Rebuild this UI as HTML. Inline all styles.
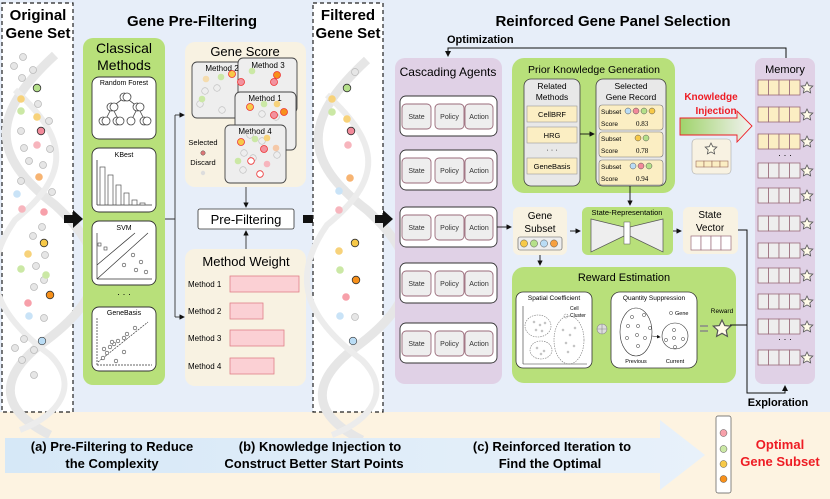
<!DOCTYPE html>
<html><head><meta charset="utf-8"><style>
html,body{margin:0;padding:0;background:#fff}
svg{display:block}
text{font-family:"Liberation Sans",sans-serif}
</style></head><body>
<svg width="830" height="499" viewBox="0 0 830 499" xmlns="http://www.w3.org/2000/svg">
<defs>
<marker id="ar" markerWidth="6" markerHeight="6" refX="5" refY="3" orient="auto"><path d="M0,0 L6,3 L0,6 z" fill="#111"/></marker>
<linearGradient id="kg" x1="0" x2="1"><stop offset="0" stop-color="#9fd36a"/><stop offset="1" stop-color="#f2f2f2"/></linearGradient>
<linearGradient id="bg" x1="0" x2="1"><stop offset="0" stop-color="#d6e8f7"/><stop offset="1" stop-color="#e8f1fa"/></linearGradient>
<g id="star"><path d="M0,-6 L1.8,-2.3 L5.8,-1.9 L2.8,0.9 L3.6,4.9 L0,2.9 L-3.6,4.9 L-2.8,0.9 L-5.8,-1.9 L-1.8,-2.3 z" fill="#fffbe8" stroke="#555" stroke-width="0.8"/></g>
<g id="dna"><path d="M55,10 C-10,70 -10,110 55,160 C110,210 110,250 40,300 C-10,340 10,370 50,390" fill="none" stroke="#e6e6e6" stroke-width="9"/>
<path d="M15,45 C70,95 70,130 15,175 C-20,225 -10,265 50,310 C80,340 60,370 20,385" fill="none" stroke="#ececec" stroke-width="6"/></g>
</defs>
<rect x="0" y="0" width="830" height="412" fill="#e7eef9"/>
<rect x="0" y="412" width="830" height="87" fill="#fdf3e1"/>
<!-- Original gene set -->
<rect x="2" y="3" width="71" height="409" fill="#fff" stroke="#222" stroke-width="1.2" stroke-dasharray="4,3"/>
<use href="#dna" x="0" y="45"/>
<text x="38" y="20" font-size="15" font-weight="bold" text-anchor="middle">Original</text>
<text x="38" y="38" font-size="15" font-weight="bold" text-anchor="middle">Gene Set</text>
<g stroke="#bbb" stroke-width="0.8" fill="#e6e6e6">
<circle cx="23" cy="57" r="3.5"/><circle cx="14" cy="66" r="3.5"/><circle cx="33" cy="70" r="3.5"/><circle cx="22" cy="78" r="3.5"/><circle cx="38" cy="104" r="3.5"/><circle cx="21" cy="131" r="3.5"/><circle cx="49" cy="121" r="3.5"/><circle cx="24" cy="148" r="3.5"/><circle cx="50" cy="149" r="3.5"/><circle cx="29" cy="161" r="3.5"/><circle cx="43" cy="165" r="3.5"/><circle cx="21" cy="181" r="3.5"/><circle cx="52" cy="192" r="3.5"/><circle cx="42" cy="227" r="3.5"/><circle cx="33" cy="236" r="3.5"/><circle cx="45" cy="255" r="3.5"/><circle cx="36" cy="266" r="3.5"/><circle cx="44" cy="280" r="3.5"/><circle cx="34" cy="287" r="3.5"/><circle cx="44" cy="318" r="3.5"/><circle cx="24" cy="339" r="3.5"/><circle cx="15" cy="348" r="3.5"/><circle cx="34" cy="350" r="3.5"/><circle cx="22" cy="360" r="3.5"/><circle cx="34" cy="375" r="3.5"/></g>
<circle cx="37" cy="88" r="3.8" fill="#b5e08a" stroke="#333" stroke-width="0.8"/>
<circle cx="21" cy="99" r="3.8" fill="#f7d27a"/><circle cx="21" cy="111" r="3.8" fill="#cbe8a5"/><circle cx="37" cy="117" r="3.8" fill="#f7d27a"/>
<circle cx="41" cy="131" r="3.8" fill="#f28a9a" stroke="#333" stroke-width="0.8"/><circle cx="37" cy="145" r="3.8" fill="#f7b5bd"/>
<circle cx="39" cy="177" r="3.8" fill="#f7b472"/><circle cx="17" cy="194" r="3.8" fill="#c9e3f7"/><circle cx="22" cy="209" r="3.8" fill="#f7b5bd"/><circle cx="44" cy="212" r="3.8" fill="#f7a0aa"/>
<circle cx="44" cy="243" r="3.8" fill="#f7c948" stroke="#333" stroke-width="0.8"/><circle cx="28" cy="254" r="3.8" fill="#f7d27a"/><circle cx="21" cy="269" r="3.8" fill="#cbe8a5"/><circle cx="46" cy="275" r="3.8" fill="#cbe8a5"/>
<circle cx="50" cy="295" r="3.8" fill="#f7901a" stroke="#333" stroke-width="0.8"/><circle cx="28" cy="303" r="3.8" fill="#f7a0aa"/><circle cx="29" cy="316" r="3.8" fill="#c9e3f7"/><circle cx="42" cy="341" r="3.8" fill="#b9dcf5" stroke="#333" stroke-width="0.6"/>
<!-- arrow 1 -->
<path d="M64,215 L73,215 L73,210 L83,219 L73,228 L73,223 L64,223 z" fill="#111"/>
<text x="192" y="26" font-size="15" font-weight="bold" text-anchor="middle">Gene Pre-Filtering</text>
<!-- Classical methods -->
<rect x="83" y="38" width="82" height="347" rx="10" fill="#b8e07a"/>
<text x="124" y="53" font-size="14" text-anchor="middle">Classical</text>
<text x="124" y="70" font-size="14" text-anchor="middle">Methods</text>
<g fill="#fff" stroke="#333" stroke-width="0.9">
<rect x="92" y="77" width="64" height="62" rx="7"/><rect x="92" y="148" width="64" height="64" rx="7"/><rect x="92" y="221" width="64" height="64" rx="7"/><rect x="92" y="307" width="64" height="64" rx="7"/></g>
<text x="124" y="85" font-size="7" text-anchor="middle">Random Forest</text>
<path d="M125,97 L112,107 L105,121 M112,107 L119,121 M125,97 L138,107 L131,121 M138,107 L145,121" stroke="#444" stroke-width="0.8" fill="none"/>
<g fill="#fff" stroke="#444" stroke-width="0.8"><circle cx="124" cy="97" r="4"/><circle cx="127" cy="97" r="4"/><circle cx="111" cy="107" r="4"/><circle cx="114" cy="107" r="4"/><circle cx="137" cy="107" r="4"/><circle cx="140" cy="107" r="4"/><circle cx="103" cy="121" r="4"/><circle cx="106" cy="121" r="4"/><circle cx="117" cy="121" r="4"/><circle cx="120" cy="121" r="4"/><circle cx="131" cy="121" r="4"/><circle cx="144" cy="121" r="4"/><circle cx="147" cy="121" r="4"/></g>
<text x="124" y="157" font-size="7" text-anchor="middle">KBest</text>
<path d="M97,205 L97,160 M97,205 L152,205" stroke="#333" stroke-width="0.8" fill="none"/>
<g fill="#fff" stroke="#555" stroke-width="0.7"><rect x="100" y="167" width="5" height="38"/><rect x="108" y="175" width="5" height="30"/><rect x="116" y="185" width="5" height="20"/><rect x="124" y="193" width="5" height="12"/><rect x="132" y="200" width="5" height="5"/><rect x="140" y="203" width="5" height="2"/></g>
<text x="124" y="230" font-size="7" text-anchor="middle">SVM</text>
<path d="M97,279 L97,233 M97,279 L152,279 M97,279 L148,233 M97,265 L135,233" stroke="#333" stroke-width="0.7" fill="none"/>
<g fill="#fff" stroke="#444" stroke-width="0.6"><rect x="98" y="243" width="3" height="3"/><rect x="104" y="247" width="3" height="3"/><circle cx="133" cy="255" r="1.8"/><circle cx="141" cy="262" r="1.8"/><circle cx="124" cy="265" r="1.8"/><circle cx="136" cy="270" r="1.8"/><circle cx="146" cy="272" r="1.8"/></g>
<text x="124" y="297" font-size="9" text-anchor="middle">· · ·</text>
<text x="124" y="315" font-size="7" text-anchor="middle">GeneBasis</text>
<path d="M97,365 L97,318 M97,365 L152,365 M98,362 L148,322" stroke="#333" stroke-width="0.7" fill="none" stroke-dasharray="2,1"/>
<g fill="#fff" stroke="#444" stroke-width="0.6"><circle cx="103" cy="358" r="1.8"/><circle cx="107" cy="353" r="1.8"/><circle cx="104" cy="349" r="1.8"/><circle cx="110" cy="347" r="1.8"/><circle cx="114" cy="344" r="1.8"/><circle cx="118" cy="341" r="1.8"/><circle cx="112" cy="342" r="1.8"/><circle cx="124" cy="338" r="1.8"/><circle cx="127" cy="334" r="1.8"/><circle cx="135" cy="328" r="1.8"/><circle cx="124" cy="352" r="1.8"/><circle cx="116" cy="361" r="1.8"/></g>
<!-- connectors -->
<path d="M165,219 L175,219 M175,115 L175,317" stroke="#333" stroke-width="0.9" fill="none"/>
<path d="M175,115 L184,115" stroke="#333" stroke-width="0.9" marker-end="url(#ar)"/>
<path d="M175,317 L184,317" stroke="#333" stroke-width="0.9" marker-end="url(#ar)"/>
<!-- Gene score -->
<rect x="185" y="42" width="121" height="145" rx="10" fill="#f8f2e2"/>
<text x="245" y="56" font-size="13" text-anchor="middle">Gene Score</text>
<g fill="#eee" stroke="#444" stroke-width="0.9">
<rect x="192" y="62" width="60" height="56" rx="5"/><rect x="238" y="58" width="59" height="55" rx="5"/><rect x="235" y="92" width="61" height="58" rx="5"/><rect x="225" y="125" width="61" height="58" rx="5"/></g>
<text x="222" y="71" font-size="8" text-anchor="middle">Method 2</text>
<text x="268" y="68" font-size="8" text-anchor="middle">Method 3</text>
<text x="265" y="101" font-size="8" text-anchor="middle">Method 1</text>
<text x="255" y="134" font-size="8" text-anchor="middle">Method 4</text>
<g stroke="#bbb" stroke-width="0.6" fill="none"><circle cx="205" cy="91" r="3.3"/><circle cx="217" cy="88" r="3.3"/><circle cx="200" cy="104" r="3.3"/><circle cx="222" cy="110" r="3.3"/><circle cx="262" cy="114" r="3.3"/><circle cx="276" cy="117" r="3.3"/><circle cx="250" cy="135" r="3.3"/><circle cx="262" cy="141" r="3.3"/><circle cx="244" cy="153" r="3.3"/><circle cx="253" cy="158" r="3.3"/><circle cx="243" cy="170" r="3.3"/><circle cx="277" cy="155" r="3.3"/></g>
<circle cx="206" cy="79" r="3.3" fill="#f5dcae"/><circle cx="221" cy="77" r="3.3" fill="#cbe8a5"/><circle cx="232" cy="74" r="3.5" fill="#f7c948" stroke="#e33" stroke-width="0.8"/><circle cx="241" cy="82" r="3.5" fill="#f2929e" stroke="#e33" stroke-width="0.8"/><circle cx="202" cy="99" r="3.3" fill="#cbe8a5"/>
<circle cx="252" cy="71" r="3.3" fill="#cbe8a5"/><circle cx="277" cy="75" r="3.5" fill="#f7901a" stroke="#e33" stroke-width="0.8"/><circle cx="274" cy="82" r="3.5" fill="#f2929e" stroke="#e33" stroke-width="0.8"/>
<circle cx="250" cy="107" r="3.5" fill="#f7c948" stroke="#e33" stroke-width="0.8"/><circle cx="264" cy="104" r="3.3" fill="#cbe8a5"/><circle cx="277" cy="104" r="3.3" fill="#f7d27a"/><circle cx="274" cy="115" r="3.5" fill="#f2929e" stroke="#e33" stroke-width="0.8"/><circle cx="284" cy="112" r="3.5" fill="#f7901a" stroke="#e33" stroke-width="0.8"/>
<circle cx="241" cy="142" r="3.5" fill="#f7c948" stroke="#e33" stroke-width="0.8"/><circle cx="255" cy="139" r="3.3" fill="#cbe8a5"/><circle cx="267" cy="138" r="3.3" fill="#f7d27a"/><circle cx="264" cy="149" r="3.5" fill="#f2929e" stroke="#e33" stroke-width="0.8"/><circle cx="276" cy="148" r="3.3" fill="#f5c8a8"/><circle cx="238" cy="161" r="3.3" fill="#cbe8a5"/><circle cx="251" cy="161" r="3.3" fill="#fff" stroke="#e33" stroke-width="0.8"/><circle cx="267" cy="164" r="3.3" fill="#f7b5bd"/><circle cx="260" cy="174" r="3.3" fill="#fff" stroke="#e33" stroke-width="0.8"/>
<text x="203" y="145" font-size="7.5" text-anchor="middle">Selected</text>
<circle cx="203" cy="153" r="2.2" fill="#d77" stroke="#555" stroke-width="0.5"/>
<text x="203" y="165" font-size="7.5" text-anchor="middle">Discard</text>
<circle cx="203" cy="173" r="2.2" fill="#ddd"/>
<path d="M246,187 L246,207" stroke="#333" stroke-width="0.9" marker-end="url(#ar)"/>
<rect x="198" y="209" width="96" height="20" rx="2" fill="#fff" stroke="#333" stroke-width="0.8"/>
<text x="246" y="224" font-size="13" text-anchor="middle">Pre-Filtering</text>
<path d="M246,249 L246,231" stroke="#333" stroke-width="0.9" marker-end="url(#ar)"/>
<!-- Method weight -->
<rect x="185" y="249" width="121" height="137" rx="10" fill="#f8f2e2"/>
<text x="246" y="266" font-size="13" text-anchor="middle">Method Weight</text>
<g font-size="8"><text x="188" y="287">Method 1</text><text x="188" y="314">Method 2</text><text x="188" y="341">Method 3</text><text x="188" y="369">Method 4</text></g>
<g fill="#fbd0d4" stroke="#e08088" stroke-width="0.8"><rect x="230" y="276" width="69" height="16"/><rect x="230" y="303" width="33" height="16"/><rect x="230" y="330" width="54" height="16"/><rect x="230" y="358" width="44" height="16"/></g>
<!-- arrow 2 -->
<path d="M303,215 L313,215 L313,210 L323,219 L313,228 L313,223 L303,223 z" fill="#111"/>
<!-- filtered -->
<rect x="313" y="3" width="70" height="409" fill="#fff" stroke="#222" stroke-width="1.2" stroke-dasharray="4,3"/>
<use href="#dna" x="312" y="50"/>
<text x="348" y="20" font-size="15" font-weight="bold" text-anchor="middle">Filtered</text>
<text x="348" y="38" font-size="15" font-weight="bold" text-anchor="middle">Gene Set</text>
<g stroke="#bbb" stroke-width="0.7" fill="#e6e6e6"><circle cx="355" cy="72" r="3.5"/><circle cx="355" cy="317" r="3.5"/></g>
<circle cx="347" cy="88" r="3.8" fill="#b5e08a" stroke="#333" stroke-width="0.8"/><circle cx="332" cy="99" r="3.8" fill="#f7d27a"/><circle cx="332" cy="112" r="3.8" fill="#cbe8a5"/><circle cx="347" cy="119" r="3.8" fill="#f7d27a"/><circle cx="351" cy="131" r="3.8" fill="#f28a9a" stroke="#333" stroke-width="0.8"/><circle cx="348" cy="145" r="3.8" fill="#f7b5bd"/><circle cx="350" cy="178" r="3.8" fill="#f7b472"/><circle cx="339" cy="191" r="3.8" fill="#c9e3f7"/><circle cx="339" cy="210" r="3.8" fill="#f7b5bd"/><circle cx="355" cy="243" r="3.8" fill="#f7c948" stroke="#333" stroke-width="0.8"/><circle cx="339" cy="251" r="3.8" fill="#f7d27a"/><circle cx="340" cy="270" r="3.8" fill="#cbe8a5"/><circle cx="356" cy="280" r="3.8" fill="#f7901a" stroke="#333" stroke-width="0.8"/><circle cx="346" cy="297" r="3.8" fill="#f7a0aa"/><circle cx="340" cy="316" r="3.8" fill="#c9e3f7"/><circle cx="353" cy="341" r="3.8" fill="#b9dcf5" stroke="#333" stroke-width="0.6"/>
<!-- arrow 3 -->
<path d="M375,215 L383,215 L383,210 L393,219 L383,228 L383,223 L375,223 z" fill="#111"/>
<text x="613" y="26" font-size="15" font-weight="bold" text-anchor="middle">Reinforced Gene Panel Selection</text>
<text x="447" y="43" font-size="11" font-weight="bold">Optimization</text>
<path d="M786,58 L786,48 L448,48 L448,56" stroke="#111" stroke-width="1" fill="none" marker-end="url(#ar)"/>
<!-- cascading agents -->
<rect x="395" y="58" width="107" height="326" rx="10" fill="#e0d1e6"/>
<text x="448" y="76" font-size="12" text-anchor="middle">Cascading Agents</text>
<g id="agent">
<rect x="400" y="96" width="97" height="40" rx="6" fill="#fff" stroke="#333" stroke-width="0.9"/>
<g fill="#eee" stroke="#9a6b7a" stroke-width="0.9"><rect x="402" y="104" width="29" height="25" rx="4"/><rect x="435" y="104" width="29" height="25" rx="4"/><rect x="465" y="104" width="28" height="25" rx="4"/></g>
<g font-size="7" text-anchor="middle" fill="#333"><text x="416.5" y="119">State</text><text x="449.5" y="119">Policy</text><text x="479" y="119">Action</text></g>
</g>
<use href="#agent" y="54"/><use href="#agent" y="111"/><use href="#agent" y="167"/><use href="#agent" y="227"/>
<!-- prior knowledge -->
<rect x="512" y="58" width="163" height="135" rx="12" fill="#b8e07a"/>
<text x="594" y="73" font-size="10.5" text-anchor="middle">Prior Knowledge Generation</text>
<rect x="524" y="79" width="56" height="107" rx="7" fill="#e8e8e8" stroke="#444" stroke-width="0.8"/>
<text x="552" y="89" font-size="8.5" text-anchor="middle">Related</text><text x="552" y="100" font-size="8.5" text-anchor="middle">Methods</text>
<g fill="#fbeec3" stroke="#999" stroke-width="0.6"><rect x="527" y="106" width="50" height="16"/><rect x="527" y="127" width="50" height="16"/><rect x="527" y="158" width="50" height="16"/></g>
<g font-size="7.5" text-anchor="middle"><text x="552" y="117">CellBRF</text><text x="552" y="138">HRG</text><text x="552" y="152">· · ·</text><text x="552" y="169">GeneBasis</text></g>
<path d="M580,134 L594,134" stroke="#111" stroke-width="0.9" marker-end="url(#ar)"/>
<rect x="596" y="79" width="70" height="107" rx="7" fill="#e8e8e8" stroke="#444" stroke-width="0.8"/>
<text x="631" y="89" font-size="8.5" text-anchor="middle">Selected</text><text x="631" y="100" font-size="8.5" text-anchor="middle">Gene Record</text>
<g fill="#fbeec3" stroke="#777" stroke-width="0.6"><rect x="599" y="105" width="64" height="25" rx="3"/><rect x="599" y="132" width="64" height="25" rx="3"/><rect x="599" y="160" width="64" height="25" rx="3"/></g>
<g font-size="6.5"><text x="601" y="114">Subset</text><text x="601" y="126">Score</text><text x="601" y="141">Subset</text><text x="601" y="153">Score</text><text x="601" y="169">Subset</text><text x="601" y="181">Score</text></g>
<g font-size="7"><text x="636" y="126" style="font-family:'Liberation Serif'">0.83</text><text x="636" y="153" style="font-family:'Liberation Serif'">0.78</text><text x="636" y="181" style="font-family:'Liberation Serif'">0.94</text></g>
<g stroke="#555" stroke-width="0.5"><circle cx="628" cy="111" r="3" fill="#b9dcf5"/><circle cx="636" cy="111" r="3" fill="#f28a9a"/><circle cx="644" cy="111" r="3" fill="#b5e08a"/><circle cx="652" cy="111" r="3" fill="#f7c948"/><circle cx="638" cy="138" r="3" fill="#f7c948"/><circle cx="646" cy="138" r="3" fill="#b5e08a"/><circle cx="633" cy="166" r="3" fill="#b9dcf5"/><circle cx="641" cy="166" r="3" fill="#f28a9a"/><circle cx="649" cy="166" r="3" fill="#b5e08a"/></g>
<path d="M630,186 L630,205" stroke="#111" stroke-width="0.9" marker-end="url(#ar)"/>
<!-- knowledge injection -->
<text x="711" y="100" font-size="10" font-weight="bold" fill="#ee1c24" text-anchor="middle">Knowledge</text>
<text x="716" y="114" font-size="10" font-weight="bold" fill="#ee1c24" text-anchor="middle">Injection</text>
<path d="M680,118 L737,118 L737,111 L752,126 L737,142 L737,135 L680,135 z" fill="url(#kg)" stroke="#ee1c24" stroke-width="0.9"/>
<rect x="692" y="139" width="39" height="35" rx="4" fill="#f8f2e2" stroke="#aaa" stroke-width="0.6"/>
<use href="#star" x="711" y="149"/>
<g fill="#fbeec3" stroke="#9a6b5a" stroke-width="0.6"><rect x="696" y="161" width="8" height="6"/><rect x="704" y="161" width="8" height="6"/><rect x="712" y="161" width="8" height="6"/><rect x="720" y="161" width="8" height="6"/></g>
<!-- memory -->
<rect x="755" y="58" width="60" height="326" rx="8" fill="#e0d1e6"/>
<text x="785" y="73" font-size="11" text-anchor="middle">Memory</text>
<g id="mrow"><g fill="#fbeec3" stroke="#9a6b7a" stroke-width="0.8"><rect x="758" y="80" width="10.5" height="15"/><rect x="768.5" y="80" width="10.5" height="15"/><rect x="779" y="80" width="10.5" height="15"/><rect x="789.5" y="80" width="10.5" height="15"/></g><use href="#star" x="807" y="88"/></g>
<use href="#mrow" y="27"/><use href="#mrow" y="54"/>
<text x="785" y="158" font-size="9" text-anchor="middle">· · ·</text>
<g id="grow"><g fill="#eee" stroke="#9a6b7a" stroke-width="0.8"><rect x="758" y="163" width="10.5" height="15"/><rect x="768.5" y="163" width="10.5" height="15"/><rect x="779" y="163" width="10.5" height="15"/><rect x="789.5" y="163" width="10.5" height="15"/></g><use href="#star" x="807" y="171"/></g>
<use href="#grow" y="25"/><use href="#grow" y="53"/><use href="#grow" y="80"/><use href="#grow" y="105"/><use href="#grow" y="131"/><use href="#grow" y="156"/>
<text x="785" y="342" font-size="9" text-anchor="middle">· · ·</text>
<use href="#grow" y="187"/>
<!-- gene subset -->
<path d="M497,227 L511,227" stroke="#111" stroke-width="0.9" marker-end="url(#ar)"/>
<rect x="513" y="207" width="54" height="48" rx="6" fill="#f8f2e2"/>
<text x="540" y="219" font-size="10" text-anchor="middle">Gene</text><text x="540" y="232" font-size="10" text-anchor="middle">Subset</text>
<rect x="518" y="237" width="44" height="13" rx="2" fill="#eee" stroke="#555" stroke-width="0.6"/>
<g stroke="#555" stroke-width="0.5"><circle cx="524" cy="243.5" r="3.6" fill="#f7c948"/><circle cx="534" cy="243.5" r="3.6" fill="#b5e08a"/><circle cx="544" cy="243.5" r="3.6" fill="#b9dcf5"/><circle cx="554" cy="243.5" r="3.6" fill="#f7a040"/></g>
<path d="M540,255 L540,265" stroke="#111" stroke-width="0.9" marker-end="url(#ar)"/>
<path d="M570,231 L580,231" stroke="#111" stroke-width="0.9" marker-end="url(#ar)"/>
<rect x="582" y="207" width="91" height="48" rx="6" fill="#b8e07a"/>
<text x="627" y="215" font-size="7.5" text-anchor="middle">State-Representation</text>
<path d="M591,219 L624,227 L624,236 L591,252 z M663,219 L630,227 L630,236 L663,252 z" fill="#eee" stroke="#555" stroke-width="0.7"/>
<rect x="624" y="222" width="6" height="22" fill="#fff" stroke="#555" stroke-width="0.5"/>
<path d="M673,231 L681,231" stroke="#111" stroke-width="0.9" marker-end="url(#ar)"/>
<rect x="683" y="207" width="55" height="47" rx="6" fill="#f8f2e2"/>
<text x="710" y="218" font-size="10" text-anchor="middle">State</text><text x="710" y="231" font-size="10" text-anchor="middle">Vector</text>
<g fill="#fff" stroke="#9a6b7a" stroke-width="0.7"><rect x="691" y="236" width="10" height="14"/><rect x="701" y="236" width="10" height="14"/><rect x="711" y="236" width="10" height="14"/><rect x="721" y="236" width="10" height="14"/></g>
<path d="M738,230 L747,230 L747,393 L785,393 L785,386" stroke="#111" stroke-width="1" fill="none" marker-end="url(#ar)"/>
<text x="778" y="406" font-size="11" font-weight="bold" text-anchor="middle">Exploration</text>
<!-- reward -->
<rect x="512" y="267" width="224" height="116" rx="12" fill="#b8e07a"/>
<text x="624" y="281" font-size="11" text-anchor="middle">Reward Estimation</text>
<rect x="516" y="292" width="76" height="76" rx="7" fill="#fff" stroke="#333" stroke-width="0.8"/>
<text x="554" y="300" font-size="6.5" text-anchor="middle">Spatial Coefficient</text>
<path d="M523,364 L523,306 M523,364 L587,364" stroke="#333" stroke-width="0.6" fill="none"/>
<g fill="none" stroke="#777" stroke-width="0.6" stroke-dasharray="1.5,1"><ellipse cx="538" cy="326" rx="13" ry="11"/><ellipse cx="541" cy="350" rx="11" ry="9"/><ellipse cx="569" cy="340" rx="15" ry="24"/><circle cx="566" cy="316" r="2"/></g>
<g font-size="5"><text x="570" y="310">Cell</text><text x="570" y="317">Cluster</text></g>
<g fill="none" stroke="#777" stroke-width="0.4"><circle cx="534" cy="322" r="1"/><circle cx="540" cy="325" r="1"/><circle cx="545" cy="323" r="1"/><circle cx="536" cy="330" r="1"/><circle cx="542" cy="331" r="1"/><circle cx="537" cy="348" r="1"/><circle cx="544" cy="351" r="1"/><circle cx="541" cy="354" r="1"/><circle cx="563" cy="330" r="1"/><circle cx="570" cy="335" r="1"/><circle cx="566" cy="343" r="1"/><circle cx="574" cy="346" r="1"/><circle cx="568" cy="352" r="1"/><circle cx="575" cy="328" r="1"/></g>
<circle cx="602" cy="329" r="5" fill="#ddd" stroke="#888" stroke-width="0.6"/><path d="M597,329 L607,329 M602,324 L602,334" stroke="#888" stroke-width="0.6"/>
<rect x="611" y="292" width="86" height="76" rx="9" fill="#fff" stroke="#333" stroke-width="0.8"/>
<text x="654" y="300" font-size="6.5" text-anchor="middle">Quantity Suppression</text>
<ellipse cx="636" cy="332" rx="16" ry="24" fill="none" stroke="#333" stroke-width="0.6"/>
<circle cx="675" cy="336" r="13" fill="none" stroke="#333" stroke-width="0.6"/>
<g fill="none" stroke="#333" stroke-width="0.5"><circle cx="632" cy="317" r="1.6"/><circle cx="644" cy="315" r="1.6"/><circle cx="628" cy="326" r="1.6"/><circle cx="638" cy="326" r="1.6"/><circle cx="650" cy="328" r="1.6"/><circle cx="627" cy="338" r="1.6"/><circle cx="637" cy="335" r="1.6"/><circle cx="645" cy="338" r="1.6"/><circle cx="638" cy="346" r="1.6"/><circle cx="666" cy="340" r="1.6"/><circle cx="674" cy="330" r="1.6"/><circle cx="674" cy="338" r="1.6"/><circle cx="683" cy="339" r="1.6"/><circle cx="675" cy="347" r="1.6"/><circle cx="671" cy="313" r="1.6"/></g>
<text x="675" y="315" font-size="5.5">Gene</text>
<path d="M652,336 L660,337" stroke="#111" stroke-width="0.6" marker-end="url(#ar)"/>
<g font-size="5.5" text-anchor="middle"><text x="636" y="363">Previous</text><text x="675" y="363">Current</text></g>
<path d="M700,326 L708,326 M700,331 L708,331" stroke="#888" stroke-width="1.5"/>
<text x="722" y="313" font-size="6.5" text-anchor="middle">Reward</text>
<use href="#star" transform="translate(722,329) scale(1.5)"/>
<path d="M730,325 L747,325" stroke="#111" stroke-width="1"/>
<!-- bottom arrow -->
<path d="M5,438 L660,438 L660,420 L705,455 L660,490 L660,473 L5,473 z" fill="url(#bg)"/>
<g font-size="13" font-weight="bold" text-anchor="middle"><text x="112" y="451">(a) Pre-Filtering to Reduce</text><text x="112" y="468">the Complexity</text>
<text x="320" y="451">(b) Knowledge Injection to</text><text x="314" y="468">Construct Better Start Points</text>
<text x="552" y="451">(c) Reinforced Iteration to</text><text x="550" y="468">Find the Optimal</text></g>
<rect x="716" y="416" width="15" height="77" rx="2" fill="#fff" stroke="#555" stroke-width="0.7"/>
<g stroke="#555" stroke-width="0.5"><circle cx="723.5" cy="433" r="3.5" fill="#f7a0aa"/><circle cx="723.5" cy="449" r="3.5" fill="#cbe8a5"/><circle cx="723.5" cy="464" r="3.5" fill="#f7c948"/><circle cx="723.5" cy="479" r="3.5" fill="#f7901a"/></g>
<text x="780" y="449" font-size="13" font-weight="bold" fill="#ee1c24" text-anchor="middle">Optimal</text>
<text x="780" y="466" font-size="13" font-weight="bold" fill="#ee1c24" text-anchor="middle">Gene Subset</text>
</svg>
</body></html>
